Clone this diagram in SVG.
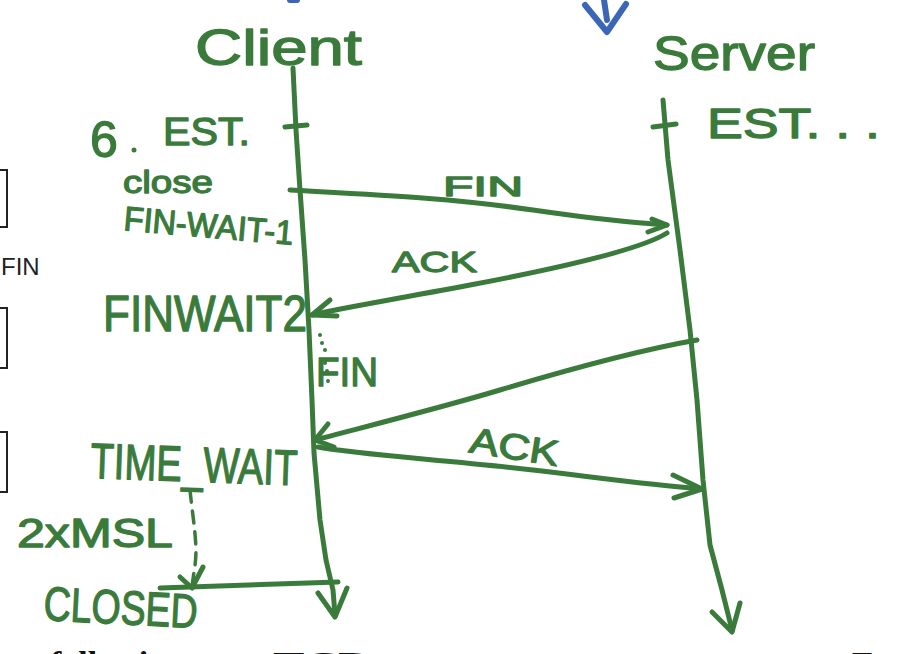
<svg xmlns="http://www.w3.org/2000/svg" width="924" height="654" viewBox="0 0 924 654">
<defs>
<style>
.ln{fill:none;stroke:#3a7b3c;stroke-width:5;stroke-linecap:round;stroke-linejoin:round}
.dash{stroke-dasharray:12 9;stroke-width:3.5}
.hw{fill:#3a7b3c;stroke:#3a7b3c;stroke-width:1.3;stroke-linejoin:round;font-family:"Liberation Sans",Arial,sans-serif}
.blue{fill:none;stroke:#3b66b8;stroke-width:6;stroke-linecap:round;stroke-linejoin:round}
.box{fill:none;stroke:#222;stroke-width:2}
.print{fill:#111;font-family:"Liberation Serif","Times New Roman",serif;font-weight:bold}
</style>
</defs>
<rect width="924" height="654" fill="#fff"/>

<g id="margin">
<rect class="box" x="-10" y="170" width="17" height="57"/>
<rect class="box" x="-10" y="308" width="17" height="60"/>
<rect class="box" x="-10" y="432" width="17" height="60"/>
<text x="1" y="275" font-family="Liberation Sans,Arial,sans-serif" font-size="24" fill="#222">FIN</text>
</g>

<g id="blue-mark">
<path class="blue" d="M585,5 L607,32 L626,4 M604,0 L607,20"/>
<path class="blue" d="M290,0 L297,0"/>
</g>

<g id="client">
<text class="hw" x="195" y="65" font-size="50" textLength="167" lengthAdjust="spacingAndGlyphs">Client</text>
</g>
<g id="server">
<text class="hw" x="653" y="70" font-size="48" textLength="162" lengthAdjust="spacingAndGlyphs">Server</text>
</g>

<g id="client-est">
<text class="hw" x="90" y="157" font-size="50">6</text>
<circle cx="134" cy="150" r="2.5" fill="#3a7b3c"/>
<text class="hw" x="163" y="145" font-size="38" textLength="87" lengthAdjust="spacingAndGlyphs">EST.</text>
</g>
<g id="server-est">
<text class="hw" x="707" y="138" font-size="42" textLength="173" lengthAdjust="spacingAndGlyphs">EST. . .</text>
</g>

<g id="close">
<text class="hw" x="123" y="193" font-size="32" textLength="90" lengthAdjust="spacingAndGlyphs">close</text>
</g>
<g id="fin-wait-1">
<text class="hw" x="123" y="230" font-size="34" textLength="170" lengthAdjust="spacingAndGlyphs" transform="rotate(5 123 230)">FIN-WAIT-1</text>
</g>
<g id="finwait2">
<text class="hw" x="103" y="331" font-size="50" textLength="204" lengthAdjust="spacingAndGlyphs">FINWAIT2</text>
</g>
<g id="time-wait">
<text class="hw" x="90" y="478" font-size="50" textLength="207" lengthAdjust="spacingAndGlyphs" transform="rotate(2 90 478)">TIME_WAIT</text>
</g>
<g id="msl">
<text class="hw" x="17" y="547" font-size="40" textLength="156" lengthAdjust="spacingAndGlyphs">2xMSL</text>
</g>
<g id="closed">
<text class="hw" x="43" y="620" font-size="48" textLength="154" lengthAdjust="spacingAndGlyphs" transform="rotate(3 43 620)">CLOSED</text>
</g>

<g id="connectors">
<path class="ln" d="M293,68 L296,130 L300,190 L305,260 L309,330 L312,400 L314,453 L320,520 L326,560 L333,590 L335,615"/>
<path class="ln" d="M318,593 L335,617 L347,588"/>
<path class="ln" d="M663,100 L668,160 L680,250 L690,330 L697,400 L703,480 L710,545 L722,590 L732,630"/>
<path class="ln" d="M712,612 L732,632 L740,603"/>
<path class="ln" d="M285,127 L307,125"/>
<path class="ln" d="M653,127 L676,124"/>
<path class="ln" d="M290,190 C380,195 450,198 533,210 S633,222 667,225"/>
<path class="ln" d="M652,219 L667,225 L648,232"/>
<path class="ln" d="M667,233 C640,250 560,268 470,285 S340,308 312,315"/>
<path class="ln" d="M330,300 L312,315 L337,316"/>
<path class="ln" d="M697,340 C640,350 560,372 500,390 S360,428 315,440"/>
<path class="ln" d="M328,424 L315,440 L334,447"/>
<path class="ln" d="M318,447 C360,455 450,460 533,470 S650,485 702,489"/>
<path class="ln" d="M673,475 L702,489 L674,498"/>
<path class="ln dash" d="M190,490 C193,520 198,545 195,565 L192,586"/>
<path class="ln" d="M180,577 L192,588 L203,567"/>
<path class="ln" d="M160,588 L338,582"/>
<g fill="#3a7b3c">
<circle cx="320" cy="335" r="2"/><circle cx="322" cy="343" r="2"/><circle cx="325" cy="350" r="2"/><circle cx="325" cy="363" r="2"/><circle cx="327" cy="371" r="2"/><circle cx="328" cy="381" r="2"/>
</g>
</g>

<g id="fin-label">
<text class="hw" x="443" y="196" font-size="28" textLength="80" lengthAdjust="spacingAndGlyphs">FIN</text>
</g>
<g id="ack-label">
<text class="hw" x="392" y="272" font-size="30" textLength="85" lengthAdjust="spacingAndGlyphs">ACK</text>
</g>
<g id="fin2-label">
<text class="hw" x="316" y="386" font-size="40" textLength="62" lengthAdjust="spacingAndGlyphs">FIN</text>
</g>
<g id="ack2-label">
<text class="hw" x="468" y="452" font-size="36" textLength="90" lengthAdjust="spacingAndGlyphs" transform="rotate(9 468 452)">ACK</text>
</g>

<g id="caption">
<text class="print" x="50" y="675" font-size="34">following</text>
<text class="print" x="273" y="675" font-size="34" textLength="94" lengthAdjust="spacingAndGlyphs">TCP</text>
<text class="print" x="852" y="675" font-size="34">E</text>
</g>
</svg>
